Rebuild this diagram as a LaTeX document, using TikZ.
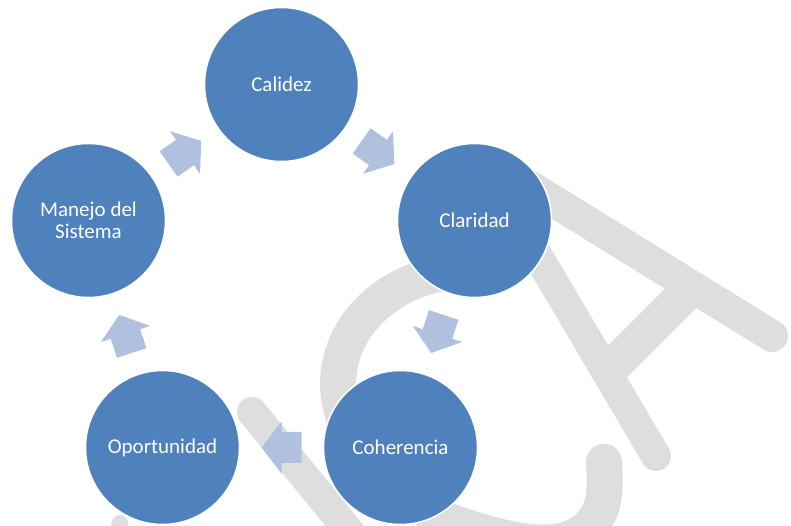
\documentclass[tikz,border=0pt]{standalone}
\usepackage{fontspec}
\setmainfont{Carlito}
\usetikzlibrary{calc}
\definecolor{circblue}{HTML}{4F81BD}
\definecolor{arrblue}{HTML}{AFC1DE}
\definecolor{wmgrey}{HTML}{DEDEDE}
\begin{document}
\begin{tikzpicture}[x=1pt,y=1pt,
  stage/.style={circle, fill=circblue, draw=white, line width=1.5pt,
    minimum size=154pt, inner sep=0pt, text=white, align=center,
    font=\fontsize{21}{22}\selectfont},
  wmstroke/.style={draw=wmgrey, line cap=round},
  wmbar/.style={draw=wmgrey, line cap=butt},
  blockarrow/.pic={\fill[arrblue] (-20,-15.5) -- (0,-15.5) -- (0,-26) -- (20,0)
     -- (0,26) -- (0,15.5) -- (-20,15.5) -- cycle;}]
\useasboundingbox (0,0) rectangle (791,526);
% watermark
\draw[wmstroke, line width=32pt] (521,345) -- (772,190);
\draw[wmstroke, line width=30pt] (529,285) -- (656,70);
\draw[wmbar, line width=36pt] (606,153) -- (693,240);
\draw[wmstroke, line width=36pt] (455,254) .. controls (400,251) and (338,208) .. (338,141)
   .. controls (340,76) and (400,21) .. (460,1)
   .. controls (520,-19) and (575,-29) .. (598,11)
   .. controls (606,26) and (605,46) .. (604,64);
\draw[wmstroke, line width=30pt] (252,114) -- (353,-10);
\draw[wmstroke, line width=16pt] (120,3) -- (114,-20);
% stages
\node[stage] (cal) at (281.5,441.5) {Calidez};
\node[stage] (cla) at (474.5,305.5) {Claridad};
\node[stage] (coh) at (400.5,78.5) {Coherencia};
\node[stage] (opo) at (162.5,78.5) {Oportunidad};
\node[stage] (man) at (88.5,305.5) {Manejo del\\Sistema};
% arrows
\foreach \a/\b in {cal/cla, cla/coh, coh/opo, opo/man, man/cal}{
  \path let \p1 = ($(\b)-(\a)$), \n1 = {atan2(\y1,\x1)} in
    ($(\a)!0.5!(\b)$) pic[rotate=\n1] {blockarrow};
}
\end{tikzpicture}
\end{document}
